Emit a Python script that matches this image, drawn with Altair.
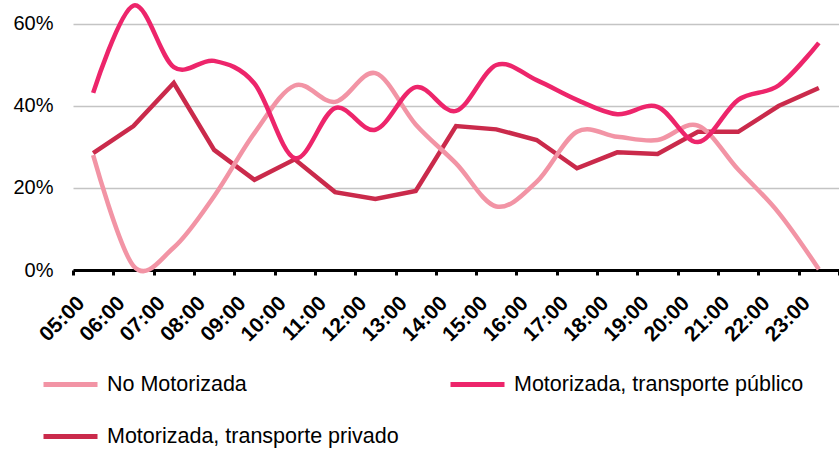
import altair as alt
import pandas as pd

# Hourly modal split (share of trips) by mode
horas = ["05:00", "06:00", "07:00", "08:00", "09:00", "10:00", "11:00", "12:00",
         "13:00", "14:00", "15:00", "16:00", "17:00", "18:00", "19:00", "20:00",
         "21:00", "22:00", "23:00"]
no_motorizada = [28.0, 1.0, 5.5, 18.0, 33.4, 45.0, 41.0, 48.0, 35.5, 26.0,
                 15.5, 21.5, 33.7, 32.5, 31.7, 35.2, 24.5, 14.0, 0.2]
publico = [43.2, 64.5, 49.5, 51.0, 45.5, 27.3, 39.5, 34.2, 44.6, 38.8,
           50.0, 46.3, 41.5, 38.0, 39.8, 31.2, 41.5, 45.0, 55.4]
privado = [28.5, 35.1, 45.6, 29.3, 22.0, 27.0, 19.0, 17.3, 19.3, 35.1,
           34.3, 31.7, 24.8, 28.7, 28.3, 33.7, 33.7, 40.0, 44.4]

series = ["No Motorizada", "Motorizada, transporte público",
          "Motorizada, transporte privado"]
colores = ["#F294A5", "#ED256B", "#CA2A4B"]

rows = []
for nombre, valores in zip(series, [no_motorizada, publico, privado]):
    for h, v in zip(horas, valores):
        rows.append({"hora": h, "serie": nombre, "valor": v / 100})
df = pd.DataFrame(rows)

FONT = "Liberation Sans"

x_enc = alt.X(
    "hora:O", sort=horas, bandPosition=0.5,
    scale=alt.Scale(type="band", paddingInner=0, paddingOuter=0),
    axis=alt.Axis(
        title=None, tickBand="extent", labelAngle=315, labelAlign="right",
        labelBaseline="top", labelFont=FONT, labelFontSize=21,
        labelFontWeight="bold", labelColor="black", labelOffset=-20,
        labelPadding=17, tickSize=5, tickWidth=3, tickColor="black",
        domainColor="black", domainWidth=3, grid=False,
    ),
)
y_enc = alt.Y(
    "valor:Q",
    scale=alt.Scale(domain=[0, 0.6585], nice=False, zero=True),
    axis=alt.Axis(
        title=None, values=[0, 0.2, 0.4, 0.6], format=".0%", domain=False,
        ticks=False, labelFont=FONT, labelFontSize=20, labelColor="black",
        labelPadding=20, gridColor="#C4C4C4", gridWidth=1.5,
    ),
)
color_enc = alt.Color(
    "serie:N", sort=series,
    scale=alt.Scale(domain=series, range=colores),
    legend=alt.Legend(
        title=None, orient="none", legendX=-32, legendY=355, columns=2,
        direction="horizontal", values=series,
        symbolType="stroke", symbolSize=2916, symbolStrokeWidth=5,
        labelFont=FONT, labelFontSize=21.5, labelColor="black", labelLimit=0,
        labelOffset=7, columnPadding=41, rowPadding=12, padding=0,
    ),
)

suaves = alt.Chart(df).transform_filter(
    alt.FieldOneOfPredicate(field="serie", oneOf=series[:2])
).mark_line(interpolate="cardinal", strokeWidth=4.5).encode(
    x=x_enc, y=y_enc, color=color_enc
)
recta = alt.Chart(df).transform_filter(
    alt.FieldEqualPredicate(field="serie", equal=series[2])
).mark_line(strokeWidth=4.5).encode(
    x=x_enc, y=y_enc, color=color_enc
)

chart = alt.layer(recta, suaves).properties(
    width=766, height=270,
).configure(
    autosize=alt.AutoSizeParams(type="none"),
    padding={"left": 73, "top": 0, "right": 0, "bottom": 179},
    background="white",
).configure_view(stroke=None)

chart.save("out.html", embed_options={"renderer": "svg", "actions": False})
